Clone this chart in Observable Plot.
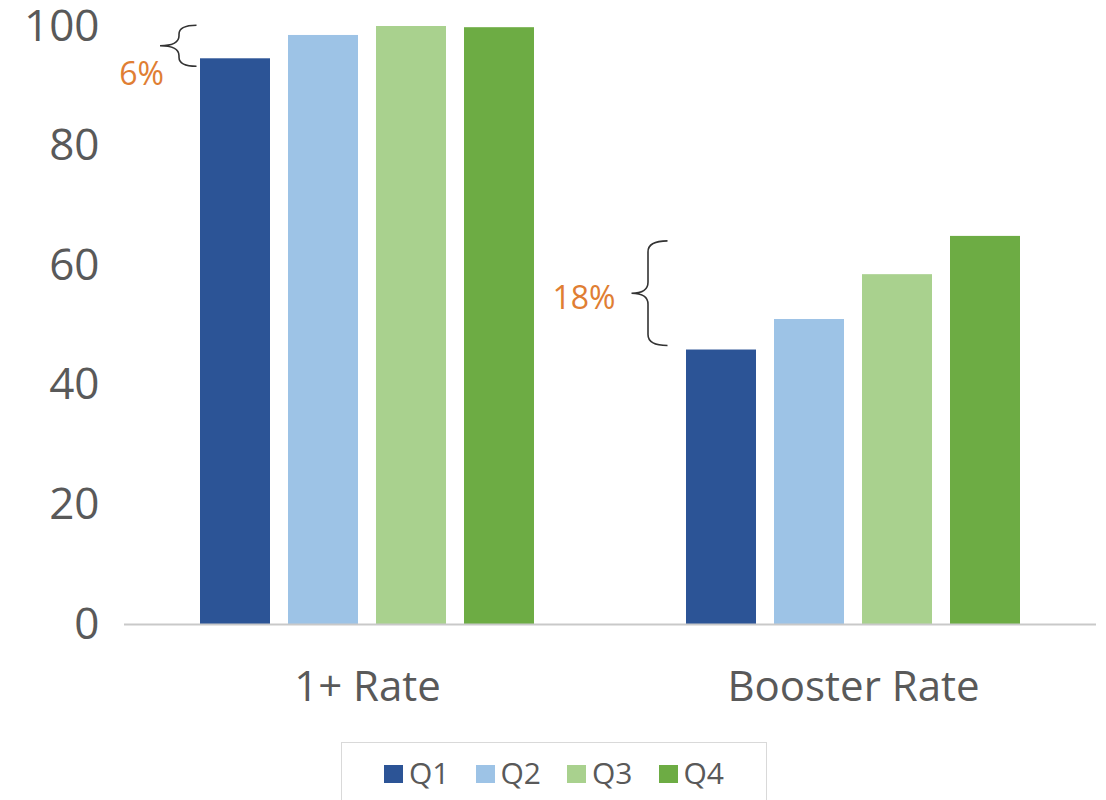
<!DOCTYPE html>
<html>
<head>
<meta charset="utf-8">
<script src="https://cdn.jsdelivr.net/npm/d3@7"></script>
<script src="https://cdn.jsdelivr.net/npm/@observablehq/plot@0.6"></script>
<style>
  body { margin: 0; background: #fff; font-family: "Open Sans", sans-serif; }
  #wrap { position: relative; width: 1106px; height: 800px; overflow: hidden; }
  #legend { position: absolute; left: 341px; top: 742px; width: 426px; height: 80px;
            border: 1px solid #d9d9d9; box-sizing: border-box; display: flex;
            justify-content: center; align-items: flex-start; padding-top: 13px; gap: 26px; }
  .item { display: flex; align-items: center; color: #595959; font-size: 30px; line-height: 34px; }
  .sw { width: 19px; height: 18px; margin-right: 6px; margin-top: 2px; }
</style>
</head>
<body>
<div id="wrap"><div id="chart"></div><div id="legend"></div></div>
<script>
const groups = ["1+ Rate", "Booster Rate"];
const quarters = ["Q1", "Q2", "Q3", "Q4"];
const colors = ["#2C5496", "#9DC3E6", "#A9D18E", "#6DAC44"];
const oneRate = [94.6, 98.5, 100, 99.8];
const boosterRate = [45.9, 51.0, 58.5, 64.9];
const yTicks = [0, 20, 40, 60, 80, 100];
const gapLabels = ["6%", "18%"];

const series = [oneRate, boosterRate];
const rows = groups.flatMap((g, gi) => quarters.map((q, qi) => ({group: g, quarter: q, value: series[gi][qi]})));
const braces = groups.map((g, gi) => ({group: g, quarter: quarters[0], top: series[gi][3], bottom: series[gi][0], label: gapLabels[gi]}));

// brace drawing style (pixel offsets relative to first bar's left edge)
const braceStyle = [
  {xr: -3.5, xs: -21, xt: -40, dTop: -2, dBottom: 8, r: 9, r2: 10, lx: 4, ly: 28.5},
  {xr: -18.5, xs: -38, xt: -54.5, dTop: 5, dBottom: -4, r: 11, r2: 11, lx: -16, ly: 5}
];

function braceRender(index, scales) {
  const g = d3.create("svg:g");
  for (const i of index) {
    const d = braces[i];
    const s = braceStyle[groups.indexOf(d.group)];
    const left = scales.x(d.quarter);
    const xr = left + s.xr, xs = left + s.xs, xt = left + s.xt;
    const y1 = scales.y(d.top) + s.dTop, y2 = scales.y(d.bottom) + s.dBottom;
    const ym = (y1 + y2) / 2;
    const p = `M${xr},${y1} Q${xs},${y1} ${xs},${y1 + s.r} L${xs},${ym - s.r2} Q${xs},${ym} ${xt},${ym} ` +
              `Q${xs},${ym} ${xs},${ym + s.r2} L${xs},${y2 - s.r} Q${xs},${y2} ${xr},${y2}`;
    g.append("path").attr("d", p).attr("fill", "none").attr("stroke", "#333").attr("stroke-width", 1.6);
    g.append("text").attr("x", xt + s.lx).attr("y", ym + s.ly).attr("text-anchor", "end")
      .attr("dy", "0.35em").attr("fill", "#E07E33").attr("font-size", 32).text(d.label);
  }
  return g.node();
}

const chart = Plot.plot({
  width: 1106,
  height: 740,
  marginTop: 26,
  marginBottom: 116,
  marginLeft: 123,
  marginRight: 10,
  style: {fontFamily: "Open Sans", background: "#fff", overflow: "visible"},
  fx: {domain: groups, padding: 0, label: null},
  x: {domain: quarters, paddingInner: 0.206, paddingOuter: 0.859, axis: null},
  y: {domain: [0, 100]},
  color: {domain: quarters, range: colors},
  marks: [
    Plot.barY(rows, {fx: "group", x: "quarter", y: "value", fill: "quarter"}),
    Plot.ruleY([0], {stroke: "#c9c9c9", strokeWidth: 2}),
    Plot.axisY({ticks: yTicks, tickSize: 0, tickPadding: 25, fontSize: 44, color: "#595959", label: null}),
    Plot.axisFx({anchor: "bottom", tickSize: 0, tickPadding: 47, fontSize: 42, color: "#595959", label: null}),
    Plot.dot(braces, {fx: "group", x: "quarter", y: "top", render: braceRender})
  ]
});
document.getElementById("chart").append(chart);

const legend = d3.select("#legend");
quarters.forEach((q, i) => {
  const it = legend.append("div").attr("class", "item");
  it.append("div").attr("class", "sw").style("background", colors[i]);
  it.append("span").text(q);
});
</script>
</body>
</html>
